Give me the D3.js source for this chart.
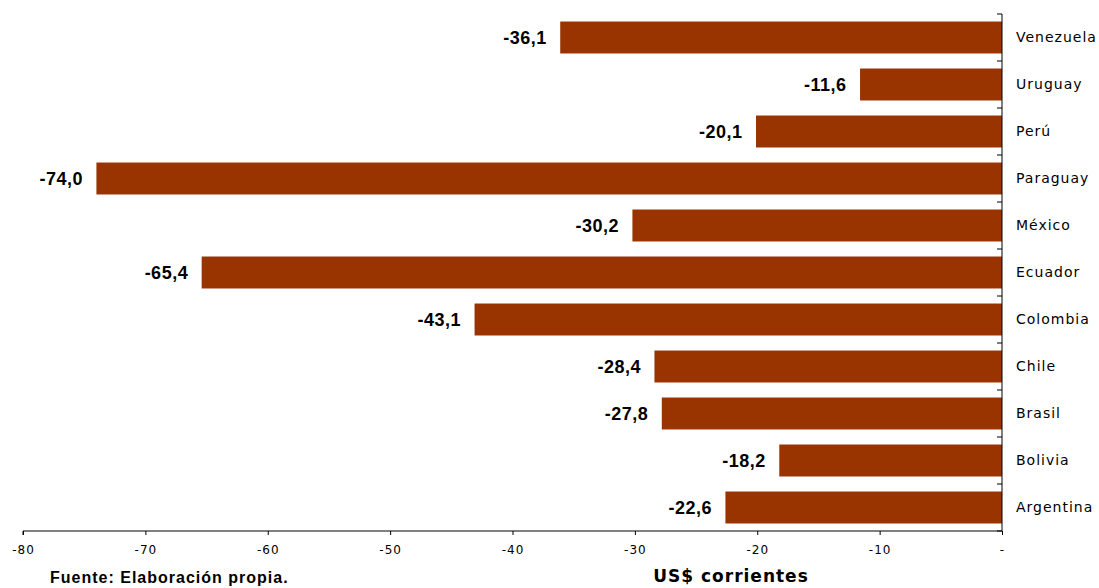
<!DOCTYPE html>
<html><head><meta charset="utf-8">
<script src="https://cdn.jsdelivr.net/npm/d3@7"></script>
<style>body{margin:0;background:#fff}svg{display:block}</style>
</head><body>
<script>
const countries = ["Venezuela","Uruguay","Perú","Paraguay","México","Ecuador","Colombia","Chile","Brasil","Bolivia","Argentina"];
const values = [-36.1,-11.6,-20.1,-74.0,-30.2,-65.4,-43.1,-28.4,-27.8,-18.2,-22.6];
const xTicks = [-80,-70,-60,-50,-40,-30,-20,-10,0];
const xTitle = "US$ corrientes";
const source = "Fuente: Elaboración propia.";

const W = 1099, H = 588;
const svg = d3.select("body").append("svg").attr("width", W).attr("height", H);
const x = d3.scaleLinear().domain([-80, 0]).range([23, 1002]);
const y = d3.scaleBand().domain(countries).range([14, 531]).paddingInner(0.32).paddingOuter(0.16);
const fmt = v => v.toFixed(1).replace(".", ",");

svg.selectAll("rect.bar").data(countries).enter().append("rect")
  .attr("class","bar")
  .attr("x", (d,i) => x(values[i]))
  .attr("y", d => y(d))
  .attr("width", (d,i) => x(0) - x(values[i]))
  .attr("height", y.bandwidth())
  .attr("fill", "#993300");

svg.selectAll("text.val").data(countries).enter().append("text")
  .attr("class","val")
  .attr("x", (d,i) => x(values[i]) - 13.5)
  .attr("y", d => y(d) + y.bandwidth()/2)
  .attr("dy", "0.35em")
  .attr("text-anchor", "end")
  .attr("font-family", "Liberation Sans, Arial, sans-serif")
  .attr("font-weight", "bold")
  .attr("font-size", 18)
  .attr("letter-spacing", 0.5)
  .attr("fill", "#000")
  .text((d,i) => fmt(values[i]));

// x axis
const xAxis = d3.axisBottom(x).tickValues(xTicks).tickSize(4)
  .tickFormat(d => d === 0 ? "-" : String(d));
const gx = svg.append("g").attr("transform", `translate(0,531)`).call(xAxis);
gx.select(".domain").attr("stroke", "#000").attr("d", `M${x(-80)},4V0H${x(0)}`);
gx.selectAll(".tick line").attr("stroke", "#000");
gx.selectAll(".tick text").attr("font-family", "DejaVu Sans, Verdana, sans-serif")
  .attr("font-size", 12).attr("letter-spacing", 1).attr("fill", "#000").attr("y", 14);

// y axis (right)
const step = y.step();
const bounds = countries.map(d => y(d) - step * y.paddingInner() / 2);
bounds.push(y(countries[countries.length-1]) + y.bandwidth() + step * y.paddingInner()/2);
svg.append("line").attr("x1", x(0)).attr("x2", x(0)).attr("y1", bounds[0]).attr("y2", 531).attr("stroke", "#000");
svg.selectAll("line.ytick").data(bounds).enter().append("line")
  .attr("class","ytick")
  .attr("x1", x(0) - 5).attr("x2", x(0))
  .attr("y1", d => d).attr("y2", d => d)
  .attr("stroke", "#000");
svg.selectAll("text.cat").data(countries).enter().append("text")
  .attr("class","cat")
  .attr("x", 1016)
  .attr("y", d => y(d) + y.bandwidth()/2)
  .attr("dy", "0.35em")
  .attr("font-family", "DejaVu Sans, Verdana, sans-serif")
  .attr("font-size", 14)
  .attr("letter-spacing", 1)
  .attr("fill", "#000")
  .text(d => d);

svg.append("text").attr("x", 731).attr("y", 582).attr("text-anchor","middle")
  .attr("font-family","DejaVu Sans, Verdana, sans-serif").attr("font-weight","bold")
  .attr("font-size", 17).attr("letter-spacing", 1).text(xTitle);
svg.append("text").attr("x", 50).attr("y", 583)
  .attr("font-family","Liberation Sans, Arial, sans-serif").attr("font-weight","bold")
  .attr("font-size", 16).attr("letter-spacing", 1).text(source);
</script>
</body></html>
